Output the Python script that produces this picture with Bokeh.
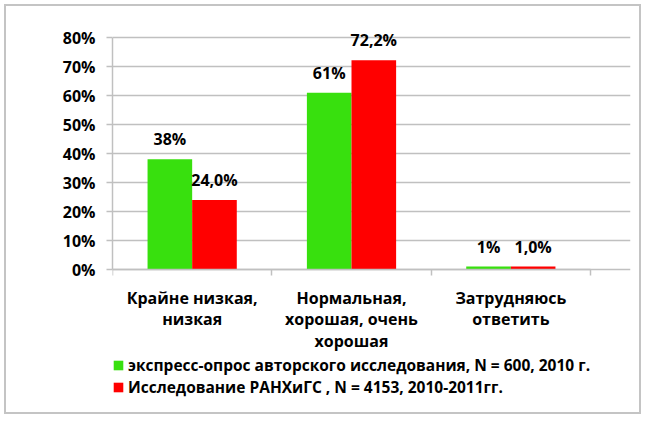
import numpy as np
from bokeh.plotting import figure
from bokeh.models import (ColumnDataSource, Range1d, FixedTicker, PrintfTickFormatter,
                          Legend, LegendItem, LinearAxis)
from bokeh.core.properties import value
from bokeh.embed import file_html
from bokeh.resources import INLINE

categories = ["Крайне низкая,\nнизкая", "Нормальная,\nхорошая, очень\nхорошая", "Затрудняюсь\nответить"]
series_names = ["экспресс-опрос авторского исследования, N = 600, 2010 г.",
                "Исследование РАНХиГС , N = 4153, 2010-2011гг."]
green_values = [38, 61, 1]
red_values = [24.0, 72.2, 1.0]
green_labels = ["38%", "61%", "1%"]
red_labels = ["24,0%", "72,2%", "1,0%"]
y_ticks = [0, 10, 20, 30, 40, 50, 60, 70, 80]

GREEN = "#38e00e"
RED = "#ff0000"
GRID = "#c0c0c0"
FONT = "Open Sans"
FS = "16px"

centers = np.arange(len(categories)) + 0.5
bw = 0.28

src_g = ColumnDataSource(dict(x=centers - bw / 2, y=green_values, lab=green_labels))
src_r = ColumnDataSource(dict(x=centers + bw / 2, y=red_values, lab=red_labels))

p = figure(width=637, height=410, output_backend="svg", toolbar_location=None,
           x_range=Range1d(0, 3.251), y_range=Range1d(-46.9, 88.64),
           x_axis_location=None, y_axis_location=None,
           min_border_left=106, min_border_right=13, min_border_top=6, min_border_bottom=11)
p.outline_line_color = None
p.background_fill_color = "white"
p.border_fill_color = "white"
p.styles = {"border": "2px solid #c4c4c4", "margin": "4px 0 0 4px"}

rg = p.vbar(x="x", top="y", width=bw, source=src_g, fill_color=GREEN, line_color=None)
rr = p.vbar(x="x", top="y", width=bw, source=src_r, fill_color=RED, line_color=None)

for src in (src_g, src_r):
    p.text(x="x", y="y", text="lab", source=src, text_align="center", text_baseline="bottom",
           y_offset=-9, text_font=value(FONT), text_font_style="bold", text_font_size=FS,
           text_color="black")

# y axis on the left edge of the plot frame
yaxis = LinearAxis(ticker=FixedTicker(ticks=y_ticks),
                   formatter=PrintfTickFormatter(format="%d%%"), bounds=(0, 80))
yaxis.axis_line_color = GRID
yaxis.axis_line_width = 1.5
yaxis.major_tick_line_color = GRID
yaxis.major_tick_line_width = 1.5
yaxis.major_tick_out = 6
yaxis.major_tick_in = 0
yaxis.minor_tick_line_color = None
yaxis.major_label_standoff = 11
yaxis.major_label_text_font = FONT
yaxis.major_label_text_font_style = "bold"
yaxis.major_label_text_font_size = FS
yaxis.major_label_text_color = "black"
p.add_layout(yaxis, "left")

# x axis at 0 %
xaxis = LinearAxis(ticker=FixedTicker(ticks=list(centers), minor_ticks=list(range(len(categories) + 1))),
                   fixed_location=0, bounds=(0, len(categories)))
xaxis.major_label_overrides = {float(c): lab for c, lab in zip(centers, categories)}
xaxis.axis_line_color = GRID
xaxis.axis_line_width = 1.5
xaxis.major_tick_line_color = None
xaxis.minor_tick_line_color = GRID
xaxis.minor_tick_line_width = 1.5
xaxis.minor_tick_out = 6
xaxis.minor_tick_in = 0
xaxis.major_label_standoff = 11
xaxis.major_label_text_font = FONT
xaxis.major_label_text_font_style = "bold"
xaxis.major_label_text_font_size = FS
xaxis.major_label_text_line_height = 0.98
xaxis.major_label_text_color = "black"
p.add_layout(xaxis, "below")

p.xgrid.visible = False
p.ygrid.ticker = FixedTicker(ticks=y_ticks)
p.ygrid.bounds = (0, len(categories))
p.ygrid.grid_line_color = GRID
p.ygrid.grid_line_width = 1.5

legend = Legend(items=[LegendItem(label=series_names[0], renderers=[rg]),
                       LegendItem(label=series_names[1], renderers=[rr])],
                location=(0, 7), orientation="vertical")
legend.background_fill_alpha = 0
legend.border_line_color = None
legend.padding = 0
legend.margin = 0
legend.spacing = 0
legend.glyph_width = 12
legend.glyph_height = 12
legend.label_height = 20
legend.label_standoff = 4
legend.label_text_font = FONT
legend.label_text_font_style = "bold"
legend.label_text_font_size = "15.5px"
legend.label_text_color = "black"
p.add_layout(legend, "center")

open("out.html", "w").write(file_html(p, INLINE))
